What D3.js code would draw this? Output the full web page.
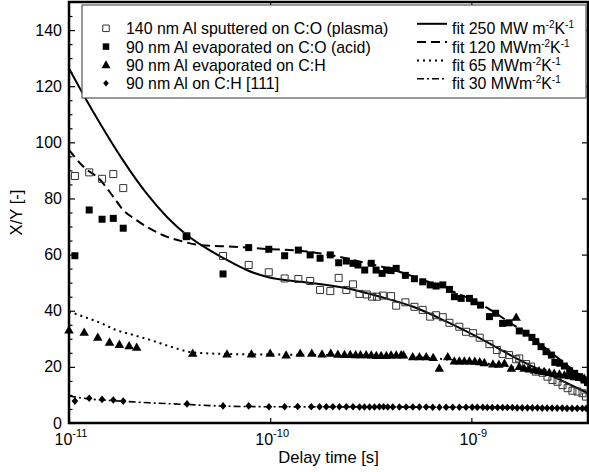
<!DOCTYPE html>
<html>
<head>
<meta charset="utf-8">
<script src="https://cdn.jsdelivr.net/npm/d3@7"></script>
<style>
body { margin: 0; background: #fff; }
text { font-family: "Liberation Sans", Arial, sans-serif; fill: #000; }
</style>
</head>
<body>
<svg id="chart" width="589" height="472"></svg>
<script>
"use strict"

// data: [delay time (s), X/Y]
var sputteredPlasma = [
  [1.07e-11,88.0],[1.26e-11,89.3],[1.46e-11,87.0],[1.66e-11,88.7],[1.86e-11,83.7],
  [3.84e-11,66.6],[5.83e-11,59.5],[7.82e-11,56.3],[9.84e-11,53.7],[1.18e-10,51.5],
  [1.38e-10,51.3],[1.58e-10,50.6],[1.77e-10,47.4],[1.99e-10,47.0],[2.19e-10,51.7],
  [2.39e-10,47.4],[2.58e-10,49.4],[2.78e-10,46.0],[3.02e-10,45.8],[3.21e-10,45.0],
  [3.4e-10,45.0],[3.63e-10,45.4],[3.99e-10,45.2],[4.23e-10,41.8],[4.7e-10,43.0],
  [5.21e-10,41.4],[5.73e-10,40.3],[6.24e-10,37.9],[6.68e-10,38.4],[7.21e-10,37.7],
  [7.78e-10,35.7],[8.71e-10,34.3],[9.41e-10,32.5],[1.02e-9,32.0],[1.1e-9,30.4],
  [1.23e-9,28.1],[1.34e-9,26.0],[1.43e-9,24.6],[1.54e-9,24.2],[1.67e-9,22.7],
  [1.73e-9,23.0],[1.87e-9,21.0],[1.98e-9,20.1],[2.09e-9,18.3],[2.26e-9,17.9],
  [2.39e-9,16.5],[2.53e-9,15.3],[2.68e-9,14.7],[2.84e-9,13.5],[3.01e-9,12.4],
  [3.18e-9,11.5],[3.37e-9,11.2],[3.57e-9,10.6],[3.71e-9,9.4]
];

var evaporatedAcid = [
  [1.07e-11,59.6],[1.26e-11,75.9],[1.46e-11,72.6],[1.66e-11,72.9],[1.86e-11,69.4],
  [3.84e-11,66.4],[5.83e-11,53.1],[7.82e-11,62.5],[9.84e-11,61.9],[1.18e-10,59.6],
  [1.38e-10,61.6],[1.58e-10,59.9],[1.77e-10,58.7],[1.99e-10,59.9],[2.19e-10,57.1],
  [2.39e-10,57.7],[2.58e-10,56.9],[2.73e-10,56.3],[2.95e-10,54.5],[3.18e-10,56.9],
  [3.36e-10,54.5],[3.6e-10,53.3],[3.79e-10,54.5],[3.99e-10,54.3],[4.23e-10,55.1],
  [4.7e-10,52.6],[5.21e-10,51.4],[5.73e-10,50.3],[6.24e-10,49.2],[6.68e-10,48.8],
  [7.21e-10,49.2],[7.78e-10,47.6],[8.24e-10,45.0],[8.9e-10,44.4],[9.78e-10,44.4],
  [1.03e-9,43.2],[1.11e-9,42.0],[1.23e-9,37.9],[1.32e-9,39.1],[1.43e-9,35.5],
  [1.54e-9,35.7],[1.73e-9,32.8],[1.87e-9,32.0],[2.0e-9,30.5],[2.09e-9,29.0],
  [2.22e-9,27.2],[2.35e-9,25.4],[2.5e-9,24.2],[2.6e-9,21.6],[2.75e-9,21.3],
  [2.9e-9,20.3],[3.08e-9,18.6],[3.26e-9,17.7],[3.45e-9,16.5],[3.63e-9,15.3],
  [3.78e-9,14.4]
];

var evaporatedCH = [
  [1.0e-11,33.1],[1.19e-11,32.3],[1.39e-11,30.5],[1.59e-11,28.8],[1.78e-11,28.0],
  [1.99e-11,27.5],[2.17e-11,27.0],[4.12e-11,24.8],[6.1e-11,24.6],[8.07e-11,24.6],
  [1.0e-10,24.8],[1.2e-10,24.2],[1.41e-10,24.8],[1.61e-10,24.8],[1.81e-10,24.6],
  [2.0e-10,24.8],[2.17e-10,24.5],[2.34e-10,24.4],[2.5e-10,24.4],[2.66e-10,24.3],
  [2.81e-10,24.3],[3.0e-10,24.3],[3.18e-10,24.2],[3.37e-10,24.0],[3.56e-10,24.0],
  [3.78e-10,24.0],[3.99e-10,24.2],[4.23e-10,24.2],[4.48e-10,24.3],[4.6e-10,24.2],
  [5.11e-10,23.6],[5.52e-10,23.6],[5.97e-10,23.6],[6.46e-10,23.3],[6.93e-10,19.5],
  [7.63e-10,23.6],[8.23e-10,22.1],[8.72e-10,22.1],[9.23e-10,22.1],[9.78e-10,22.1],
  [1.04e-9,22.0],[1.1e-9,21.8],[1.16e-9,21.5],[1.28e-9,21.0],[1.37e-9,20.9],
  [1.46e-9,21.3],[1.58e-9,19.5],[1.67e-9,37.7],[1.73e-9,20.1],[1.83e-9,19.5],
  [1.94e-9,19.2],[2.06e-9,18.9],[2.17e-9,18.6],[2.3e-9,18.3],[2.44e-9,18.0],
  [2.58e-9,17.7],[2.74e-9,17.4],[2.9e-9,17.1],[3.06e-9,16.8],[3.25e-9,16.5],
  [3.44e-9,16.2],[3.64e-9,15.9]
];

var alOnCH111 = [
  [1.07e-11,7.8],[1.26e-11,8.8],[1.46e-11,8.4],[1.66e-11,8.2],[1.86e-11,7.8],
  [3.86e-11,6.8],[5.83e-11,6.1],[7.82e-11,6.1],[9.86e-11,5.8],[1.18e-10,5.8],
  [1.37e-10,5.9],[1.6e-10,5.8],[1.76e-10,5.8],[1.9e-10,5.8],[2.05e-10,5.8],
  [2.21e-10,5.8],[2.39e-10,5.8],[2.58e-10,5.8],[2.78e-10,5.7],[2.94e-10,5.7],
  [3.12e-10,5.7],[3.3e-10,5.7],[3.49e-10,5.8],[3.66e-10,5.8],[3.84e-10,5.7],
  [4.07e-10,5.7],[4.39e-10,5.7],[4.74e-10,5.7],[5.12e-10,5.7],[5.52e-10,5.7],
  [5.96e-10,5.7],[6.43e-10,5.6],[6.94e-10,5.6],[7.49e-10,5.6],[8.08e-10,5.6],
  [8.72e-10,5.6],[9.41e-10,5.6],[1.01e-9,5.6],[1.07e-9,5.6],[1.14e-9,5.6],
  [1.2e-9,5.5],[1.27e-9,5.5],[1.35e-9,5.5],[1.43e-9,5.5],[1.51e-9,5.5],
  [1.6e-9,5.5],[1.69e-9,5.4],[1.79e-9,5.4],[1.9e-9,5.4],[2.01e-9,5.4],
  [2.13e-9,5.4],[2.25e-9,5.3],[2.38e-9,5.3],[2.52e-9,5.3],[2.67e-9,5.3],
  [2.83e-9,5.3],[2.99e-9,5.2],[3.17e-9,5.2],[3.36e-9,5.2],[3.56e-9,5.2],
  [3.72e-9,5.2]
];

var fit250 = [
  [1e-11,126.3],[1.2e-11,116.0],[1.42e-11,107.0],[1.86e-11,93.5],[2.43e-11,81.8],
  [3.06e-11,73.5],[3.85e-11,67.0],[4.83e-11,62.2],[6.08e-11,58.1],[7.64e-11,54.5],
  [9.6e-11,52.1],[1.41e-10,50.3],[1.64e-10,49.8],[2.4e-10,48.0],[3.51e-10,45.0],
  [5.14e-10,41.4],[7.54e-10,36.1],[1.1e-9,30.2],[1.62e-9,23.6],[2.37e-9,17.7],
  [3.8e-9,10.6]
];

var fit120 = [
  [1e-11,97.3],[1.18e-11,91.3],[1.43e-11,86.6],[1.66e-11,80.6],[1.86e-11,75.9],
  [2.1e-11,72.9],[2.44e-11,69.9],[3.06e-11,66.4],[3.71e-11,64.6],[4.48e-11,63.4],
  [6.56e-11,62.8],[9.6e-11,62.0],[1.41e-10,61.4],[2e-10,59.8],[3e-10,57.0],
  [4e-10,54.8],[5e-10,52.5],[6e-10,50.5],[7e-10,49.0],[8e-10,47.0],[1e-9,44.0],
  [1.2e-9,41.0],[1.5e-9,36.5],[2e-9,30.5],[2.5e-9,25.0],[3e-9,20.5],[3.8e-9,15.0]
];

var fit65 = [
  [1e-11,39.7],[1.18e-11,37.9],[1.43e-11,35.7],[1.72e-11,33.1],[2.1e-11,31.3],
  [2.53e-11,29.6],[3.2e-11,27.2],[4.1e-11,25.2],[6e-11,24.6],[1e-10,24.4],
  [2e-10,24.2],[4e-10,23.8],[6e-10,23.2],[1e-9,21.8],[1.5e-9,20.3],[2e-9,19.0],
  [3e-9,17.0],[3.8e-9,16.0]
];

var fit30 = [
  [1e-11,9.6],[1.25e-11,8.6],[1.8e-11,7.8],[2.5e-11,7.2],[3.86e-11,6.6],
  [5e-11,6.2],[6e-11,6.0],[1e-10,5.8],[3e-10,5.7],[1e-9,5.6],[3.8e-9,5.3]
];

var seriesLabels = [
  "140 nm Al sputtered on C:O (plasma)",
  "90 nm Al evaporated on C:O (acid)",
  "90 nm Al evaporated on C:H",
  "90 nm Al on C:H [111]"
];
var fitLabels = [
  ["fit 250 MW m", "K"],
  ["fit 120 MWm", "K"],
  ["fit 65 MWm", "K"],
  ["fit 30 MWm", "K"]
];

var xTicks = [1e-11, 1e-10, 1e-9];
var xTopTicks = [1e-10, 1e-9];
var yMajor = d3.range(0, 141, 20);
var yMinor = d3.range(5, 150, 5).filter(function(v) { return v % 20 !== 0; });

var FONT = "\"Liberation Sans\", Arial, sans-serif";
var LEGEND_FONT = 15.9;

var svg = d3.select("#chart");
var plot = { left: 69, right: 588, top: 2, bottom: 423 };

var x = d3.scaleLog().domain([1e-11, 3.8e-9]).range([plot.left, plot.right]);
var y = d3.scaleLinear().domain([0, 150]).range([plot.bottom, plot.top]);

svg.append("rect").attr("width", 589).attr("height", 472).attr("fill", "#fff");

svg.append("clipPath").attr("id", "clip")
  .append("rect")
  .attr("x", plot.left).attr("y", plot.top)
  .attr("width", plot.right - plot.left).attr("height", plot.bottom - plot.top);

// marker shapes
function squarePath(s) { return "M" + (-s / 2) + "," + (-s / 2) + "h" + s + "v" + s + "h" + (-s) + "Z"; }
function trianglePath(w) { var h = w * 0.87; return "M0," + (-h * 0.58) + "L" + (w / 2) + "," + (h * 0.42) + "L" + (-w / 2) + "," + (h * 0.42) + "Z"; }
function diamondPath(w, h) { return "M0," + (-h / 2) + "L" + (w / 2) + ",0L0," + (h / 2) + "L" + (-w / 2) + ",0Z"; }

var markers = [
  { data: sputteredPlasma, path: squarePath(7), legendPath: squarePath(6.5), fill: "none", stroke: "#333", sw: 1 },
  { data: evaporatedAcid, path: squarePath(7), legendPath: squarePath(6.5), fill: "#000", stroke: "none", sw: 0 },
  { data: evaporatedCH, path: trianglePath(9.5), legendPath: trianglePath(9), fill: "#000", stroke: "none", sw: 0 },
  { data: alOnCH111, path: diamondPath(6.6, 7.6), legendPath: diamondPath(5.6, 6.6), fill: "#000", stroke: "none", sw: 0 }
];

var fits = [
  { data: fit250, dash: null, sw: 2 },
  { data: fit120, dash: "9,5", sw: 2 },
  { data: fit65, dash: "2,4", sw: 2 },
  { data: fit30, dash: "7,3,2,3", sw: 1.6 }
];

// axes
function styleAxis(g) {
  g.select(".domain").remove();
  g.selectAll(".tick line").attr("stroke", "#000").attr("stroke-width", 1.2);
  g.selectAll("text").attr("font-family", FONT).attr("font-size", 16).attr("fill", "#000");
}

svg.append("g")
  .attr("transform", "translate(" + plot.left + ",0)")
  .call(d3.axisLeft(y).tickValues(yMajor).tickSize(-6).tickPadding(7).tickFormat(d3.format("d")))
  .call(styleAxis);

svg.append("g")
  .attr("transform", "translate(" + plot.left + ",0)")
  .call(d3.axisLeft(y).tickValues(yMinor).tickSize(-3.5).tickFormat(""))
  .call(styleAxis);

svg.append("g")
  .attr("transform", "translate(" + plot.right + ",0)")
  .call(d3.axisRight(y).tickValues(yMajor.slice(1)).tickSize(-6).tickFormat(""))
  .call(styleAxis);

svg.append("g")
  .attr("transform", "translate(0," + plot.bottom + ")")
  .call(d3.axisBottom(x).tickValues(xTicks).tickSize(-5).tickFormat(""))
  .call(styleAxis);

svg.append("g")
  .attr("transform", "translate(0," + plot.top + ")")
  .call(d3.axisTop(x).tickValues(xTopTicks).tickSize(-5).tickFormat(""))
  .call(styleAxis);

// 10^n labels
svg.append("g").selectAll("text")
  .data(xTicks)
  .join("text")
  .attr("x", function(d) { return x(d) + 2; })
  .attr("y", 445)
  .attr("text-anchor", "middle")
  .attr("font-size", 16)
  .each(function(d) {
    var t = d3.select(this);
    t.append("tspan").text("10");
    t.append("tspan").attr("dy", -8).attr("font-size", 11).text(Math.round(Math.log10(d)));
  });

// fit curves
var line = d3.line()
  .x(function(d) { return x(d[0]); })
  .y(function(d) { return y(d[1]); })
  .curve(d3.curveMonotoneX);

var curves = svg.append("g").attr("clip-path", "url(#clip)");
fits.forEach(function(f) {
  curves.append("path")
    .datum(f.data)
    .attr("d", line)
    .attr("fill", "none")
    .attr("stroke", "#000")
    .attr("stroke-width", f.sw)
    .attr("stroke-dasharray", f.dash);
});

// data markers
markers.forEach(function(m) {
  svg.append("g").selectAll("path")
    .data(m.data)
    .join("path")
    .attr("transform", function(d) { return "translate(" + x(d[0]) + "," + y(d[1]) + ")"; })
    .attr("d", m.path)
    .attr("fill", m.fill)
    .attr("stroke", m.stroke)
    .attr("stroke-width", m.sw);
});

// frame
svg.append("rect")
  .attr("x", plot.left).attr("y", plot.top)
  .attr("width", plot.right - plot.left).attr("height", plot.bottom - plot.top)
  .attr("fill", "none").attr("stroke", "#000").attr("stroke-width", 2.5);

// legend
var legend = svg.append("g");
legend.append("rect")
  .attr("x", 82).attr("y", 5).attr("width", 504).attr("height", 93)
  .attr("fill", "#fff").attr("stroke", "#555").attr("stroke-width", 1.2);

var rowY = function(i) { return 34.3 + i * 18.3; };

markers.forEach(function(m, i) {
  legend.append("path")
    .attr("transform", "translate(106," + (rowY(i) - 6) + ")")
    .attr("d", m.legendPath)
    .attr("fill", m.fill)
    .attr("stroke", m.stroke)
    .attr("stroke-width", m.sw);
  legend.append("text")
    .attr("x", 126).attr("y", rowY(i))
    .attr("font-size", LEGEND_FONT)
    .text(seriesLabels[i]);
});

fits.forEach(function(f, i) {
  legend.append("line")
    .attr("x1", 417).attr("x2", 447)
    .attr("y1", rowY(i) - 10.5).attr("y2", rowY(i) - 10.5)
    .attr("stroke", "#000")
    .attr("stroke-width", f.sw)
    .attr("stroke-dasharray", f.dash);
  var t = legend.append("text")
    .attr("x", 452).attr("y", rowY(i))
    .attr("font-size", LEGEND_FONT);
  t.append("tspan").text(fitLabels[i][0]);
  t.append("tspan").attr("dy", -6).attr("font-size", 10).text("-2");
  t.append("tspan").attr("dy", 6).text(fitLabels[i][1]);
  t.append("tspan").attr("dy", -6).attr("font-size", 10).text("-1");
});

// axis titles
svg.append("text")
  .attr("transform", "translate(22," + ((plot.top + plot.bottom) / 2) + ") rotate(-90)")
  .attr("text-anchor", "middle")
  .attr("font-size", 16.6)
  .text("X/Y [-]");

svg.append("text")
  .attr("x", (plot.left + plot.right) / 2)
  .attr("y", 463)
  .attr("text-anchor", "middle")
  .attr("font-size", 16.6)
  .text("Delay time [s]");
</script>
</body>
</html>
